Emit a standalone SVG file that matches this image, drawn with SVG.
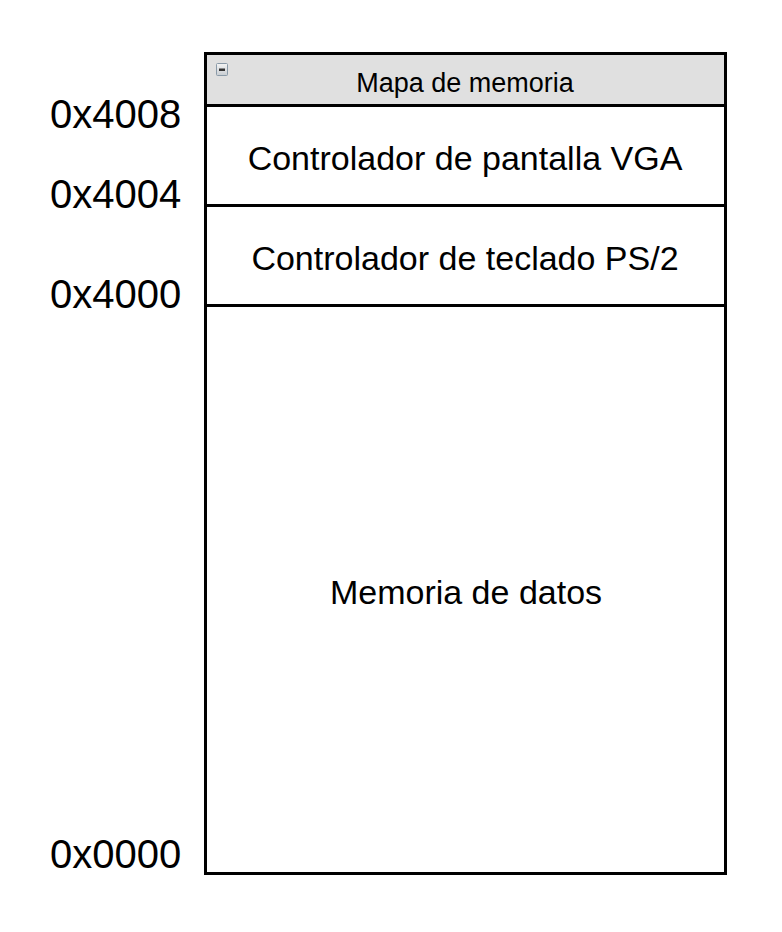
<svg xmlns="http://www.w3.org/2000/svg" width="782" height="932" viewBox="0 0 782 932">
<style>
.box{fill:#ffffff;stroke:#000000;stroke-width:3}
.hdr{fill:#e0e0e0;stroke:#000000;stroke-width:3}
.t{font-family:"Liberation Sans",Arial,sans-serif;fill:#000000;text-anchor:middle}
.lbl{font-family:"Liberation Sans",Arial,sans-serif;fill:#000000;font-size:40px}
</style>
<defs>
<linearGradient id="ig" x1="0" y1="0" x2="0" y2="1">
<stop offset="0" stop-color="#f4f4f4"/>
<stop offset="1" stop-color="#c8cdd2"/>
</linearGradient>
</defs>
<rect width="782" height="932" fill="#ffffff"/>
<g id="mapa">
<rect class="hdr" x="205.5" y="53.5" width="520" height="52"/>
<g id="collapse-icon">
<rect x="216.5" y="63.5" width="11" height="12" rx="1" fill="url(#ig)" stroke="#8a9aa8" stroke-width="1"/>
<rect x="219" y="68.5" width="6" height="2.5" fill="#333333"/>
</g>
<text class="t" x="465" y="92" font-size="27px">Mapa de memoria</text>
</g>
<g id="vga">
<rect class="box" x="205.5" y="105.5" width="520" height="100"/>
<text class="t" x="465" y="170" font-size="34px">Controlador de pantalla VGA</text>
</g>
<g id="ps2">
<rect class="box" x="205.5" y="205.5" width="520" height="100"/>
<text class="t" x="465" y="270" font-size="34px">Controlador de teclado PS/2</text>
</g>
<g id="datos">
<rect class="box" x="205.5" y="305.5" width="520" height="568"/>
<text class="t" x="466" y="604" font-size="34px">Memoria de datos</text>
</g>
<g id="labels">
<text class="lbl" x="50" y="128">0x4008</text>
<text class="lbl" x="50" y="208">0x4004</text>
<text class="lbl" x="50" y="308">0x4000</text>
<text class="lbl" x="50" y="868">0x0000</text>
</g>
<g id="connectors"></g>
</svg>
